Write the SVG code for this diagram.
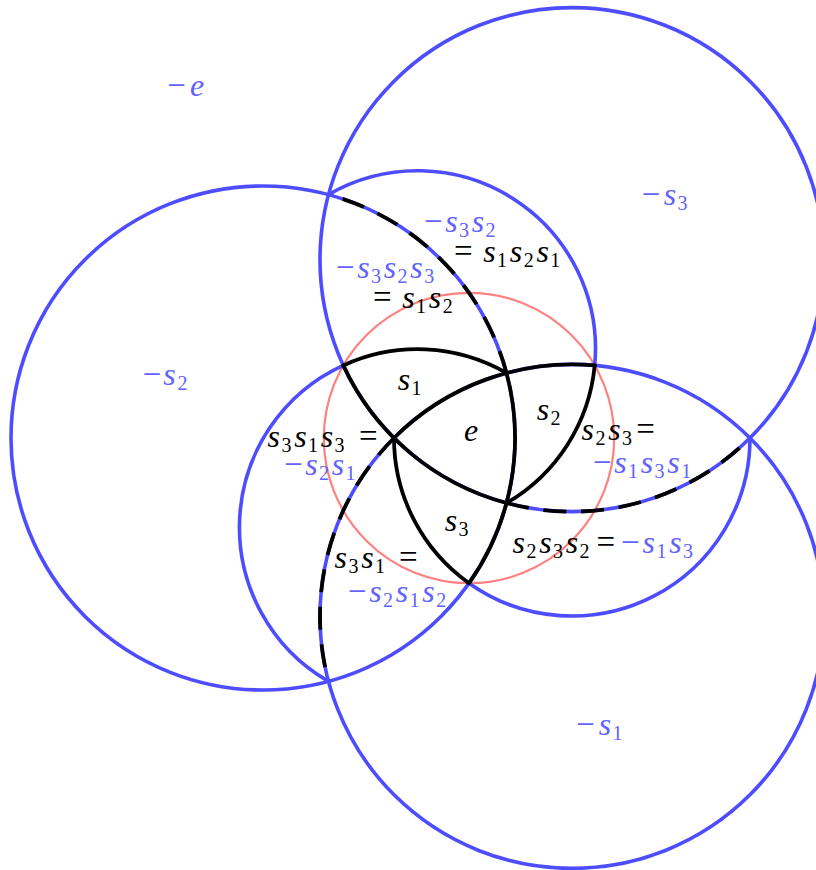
<svg xmlns="http://www.w3.org/2000/svg" width="816" height="870" viewBox="0 0 816 870">
<style>
.bl{fill:none;stroke:#4d4dff;stroke-width:3.6}
.rd{fill:none;stroke:#ff8080;stroke-width:2.2}
.k{fill:none;stroke:#000;stroke-width:3.8;stroke-linecap:round}
.dk{fill:none;stroke:#000;stroke-width:3.8;stroke-dasharray:23 14.7;stroke-dashoffset:23}
text{font-family:"Liberation Serif","DejaVu Serif",serif;font-size:32px;text-anchor:middle}
.tb{fill:#6262ff}
.tk{fill:#000}
.i{font-style:italic}
.s{font-size:20px}
.o{font-size:33px}
</style>
<rect width="816" height="870" fill="#fff"/>
<g id="red-circle">
<circle class="rd" cx="469" cy="438" r="145.2"/>
</g>
<g id="blue-circles">
<circle class="bl" cx="263" cy="438" r="252"/>
<circle class="bl" cx="572" cy="259.6" r="252"/>
<circle class="bl" cx="572" cy="616.4" r="252"/>
<path class="bl" d="M328.5 194.6A178 178 0 0 1 594.7 365.4"/>
<path class="bl" d="M750 438A178 178 0 0 1 469 583.2"/>
<path class="bl" d="M328.5 681.4A178 178 0 0 1 343.3 365.4"/>
</g>
<g id="black-arcs">
<path class="k" d="M594.7 365.4A178 178 0 0 1 506.5 503"/>
<path class="k" d="M469 583.2A178 178 0 0 1 394 438"/>
<path class="k" d="M343.3 365.4A178 178 0 0 1 506.5 373"/>
<path class="k" d="M506.5 373A252 252 0 0 1 469 583.2"/>
<path class="k" d="M506.5 503A252 252 0 0 1 343.3 365.4"/>
<path class="k" d="M394 438A252 252 0 0 1 594.7 365.4"/>
<path class="dk" d="M328.5 194.6A252 252 0 0 1 506.5 373"/>
<path class="dk" d="M750 438A252 252 0 0 1 506.5 503"/>
<path class="dk" d="M328.5 681.4A252 252 0 0 1 394 438"/>
</g>
<g id="labels">
<text class="tb"><tspan class="o" x="176.5" y="96">−</tspan><tspan class="i" x="197" y="96">e</tspan></text>
<text class="tb"><tspan class="o" x="651" y="205">−</tspan><tspan class="i" x="670" y="205">s</tspan><tspan class="s" x="682.5" y="210">3</tspan></text>
<text class="tb"><tspan class="o" x="152" y="385">−</tspan><tspan class="i" x="169.5" y="385">s</tspan><tspan class="s" x="182.5" y="390">2</tspan></text>
<text class="tb"><tspan class="o" x="585.5" y="735">−</tspan><tspan class="i" x="605" y="735">s</tspan><tspan class="s" x="617.5" y="740">1</tspan></text>
<text class="tb"><tspan class="o" x="433.3" y="232">−</tspan><tspan class="i" x="451.4" y="232">s</tspan><tspan class="s" x="464" y="237">3</tspan><tspan class="i" x="478" y="232">s</tspan><tspan class="s" x="490.6" y="237">2</tspan></text>
<text class="tk"><tspan class="o" x="463.3" y="262">=</tspan><tspan class="i" x="489.5" y="262">s</tspan><tspan class="s" x="502.1" y="267">1</tspan><tspan class="i" x="516.1" y="262">s</tspan><tspan class="s" x="528.7" y="267">2</tspan><tspan class="i" x="542.7" y="262">s</tspan><tspan class="s" x="555.3" y="267">1</tspan></text>
<text class="tb"><tspan class="o" x="345.3" y="278">−</tspan><tspan class="i" x="363.4" y="278">s</tspan><tspan class="s" x="376" y="283">3</tspan><tspan class="i" x="390" y="278">s</tspan><tspan class="s" x="402.6" y="283">2</tspan><tspan class="i" x="416.6" y="278">s</tspan><tspan class="s" x="429.2" y="283">3</tspan></text>
<text class="tk"><tspan class="o" x="382.3" y="308">=</tspan><tspan class="i" x="408.5" y="308">s</tspan><tspan class="s" x="421.1" y="313">1</tspan><tspan class="i" x="435.1" y="308">s</tspan><tspan class="s" x="447.7" y="313">2</tspan></text>
<text class="tk"><tspan class="i" x="404" y="390">s</tspan><tspan class="s" x="416.4" y="395">1</tspan></text>
<text class="tk"><tspan class="i" x="543" y="420">s</tspan><tspan class="s" x="555.4" y="425">2</tspan></text>
<text class="tk"><tspan class="i" x="471" y="441">e</tspan></text>
<text class="tk"><tspan class="i" x="451" y="531">s</tspan><tspan class="s" x="463.4" y="536">3</tspan></text>
<text class="tk"><tspan class="i" x="273.8" y="447">s</tspan><tspan class="s" x="286.4" y="452">3</tspan><tspan class="i" x="300.4" y="447">s</tspan><tspan class="s" x="313" y="452">1</tspan><tspan class="i" x="327" y="447">s</tspan><tspan class="s" x="339.6" y="452">3</tspan><tspan class="o" x="368.3" y="447">=</tspan></text>
<text class="tb"><tspan class="o" x="293.3" y="475">−</tspan><tspan class="i" x="311.4" y="475">s</tspan><tspan class="s" x="324" y="480">2</tspan><tspan class="i" x="338" y="475">s</tspan><tspan class="s" x="350.6" y="480">1</tspan></text>
<text class="tk"><tspan class="i" x="587.8" y="440">s</tspan><tspan class="s" x="600.4" y="445">2</tspan><tspan class="i" x="614.4" y="440">s</tspan><tspan class="s" x="627" y="445">3</tspan><tspan class="o" x="645.5" y="440">=</tspan></text>
<text class="tb"><tspan class="o" x="602.3" y="473">−</tspan><tspan class="i" x="620.4" y="473">s</tspan><tspan class="s" x="633" y="478">1</tspan><tspan class="i" x="647" y="473">s</tspan><tspan class="s" x="659.6" y="478">3</tspan><tspan class="i" x="673.6" y="473">s</tspan><tspan class="s" x="686.2" y="478">1</tspan></text>
<text class="tk"><tspan class="i" x="340.8" y="568">s</tspan><tspan class="s" x="353.4" y="573">3</tspan><tspan class="i" x="367.4" y="568">s</tspan><tspan class="s" x="380" y="573">1</tspan><tspan class="o" x="408.3" y="568">=</tspan></text>
<text class="tb"><tspan class="o" x="357.3" y="602">−</tspan><tspan class="i" x="375.4" y="602">s</tspan><tspan class="s" x="388" y="607">2</tspan><tspan class="i" x="402" y="602">s</tspan><tspan class="s" x="414.6" y="607">1</tspan><tspan class="i" x="428.6" y="602">s</tspan><tspan class="s" x="441.2" y="607">2</tspan></text>
<text class="tk"><tspan class="i" x="518.8" y="553">s</tspan><tspan class="s" x="531.4" y="558">2</tspan><tspan class="i" x="545.4" y="553">s</tspan><tspan class="s" x="558" y="558">3</tspan><tspan class="i" x="572" y="553">s</tspan><tspan class="s" x="584.6" y="558">2</tspan><tspan class="o" x="605.8" y="553">=</tspan></text>
<text class="tb"><tspan class="o" x="630.3" y="553">−</tspan><tspan class="i" x="648.8" y="553">s</tspan><tspan class="s" x="661.4" y="558">1</tspan><tspan class="i" x="675.4" y="553">s</tspan><tspan class="s" x="688" y="558">3</tspan></text>
</g>
</svg>
